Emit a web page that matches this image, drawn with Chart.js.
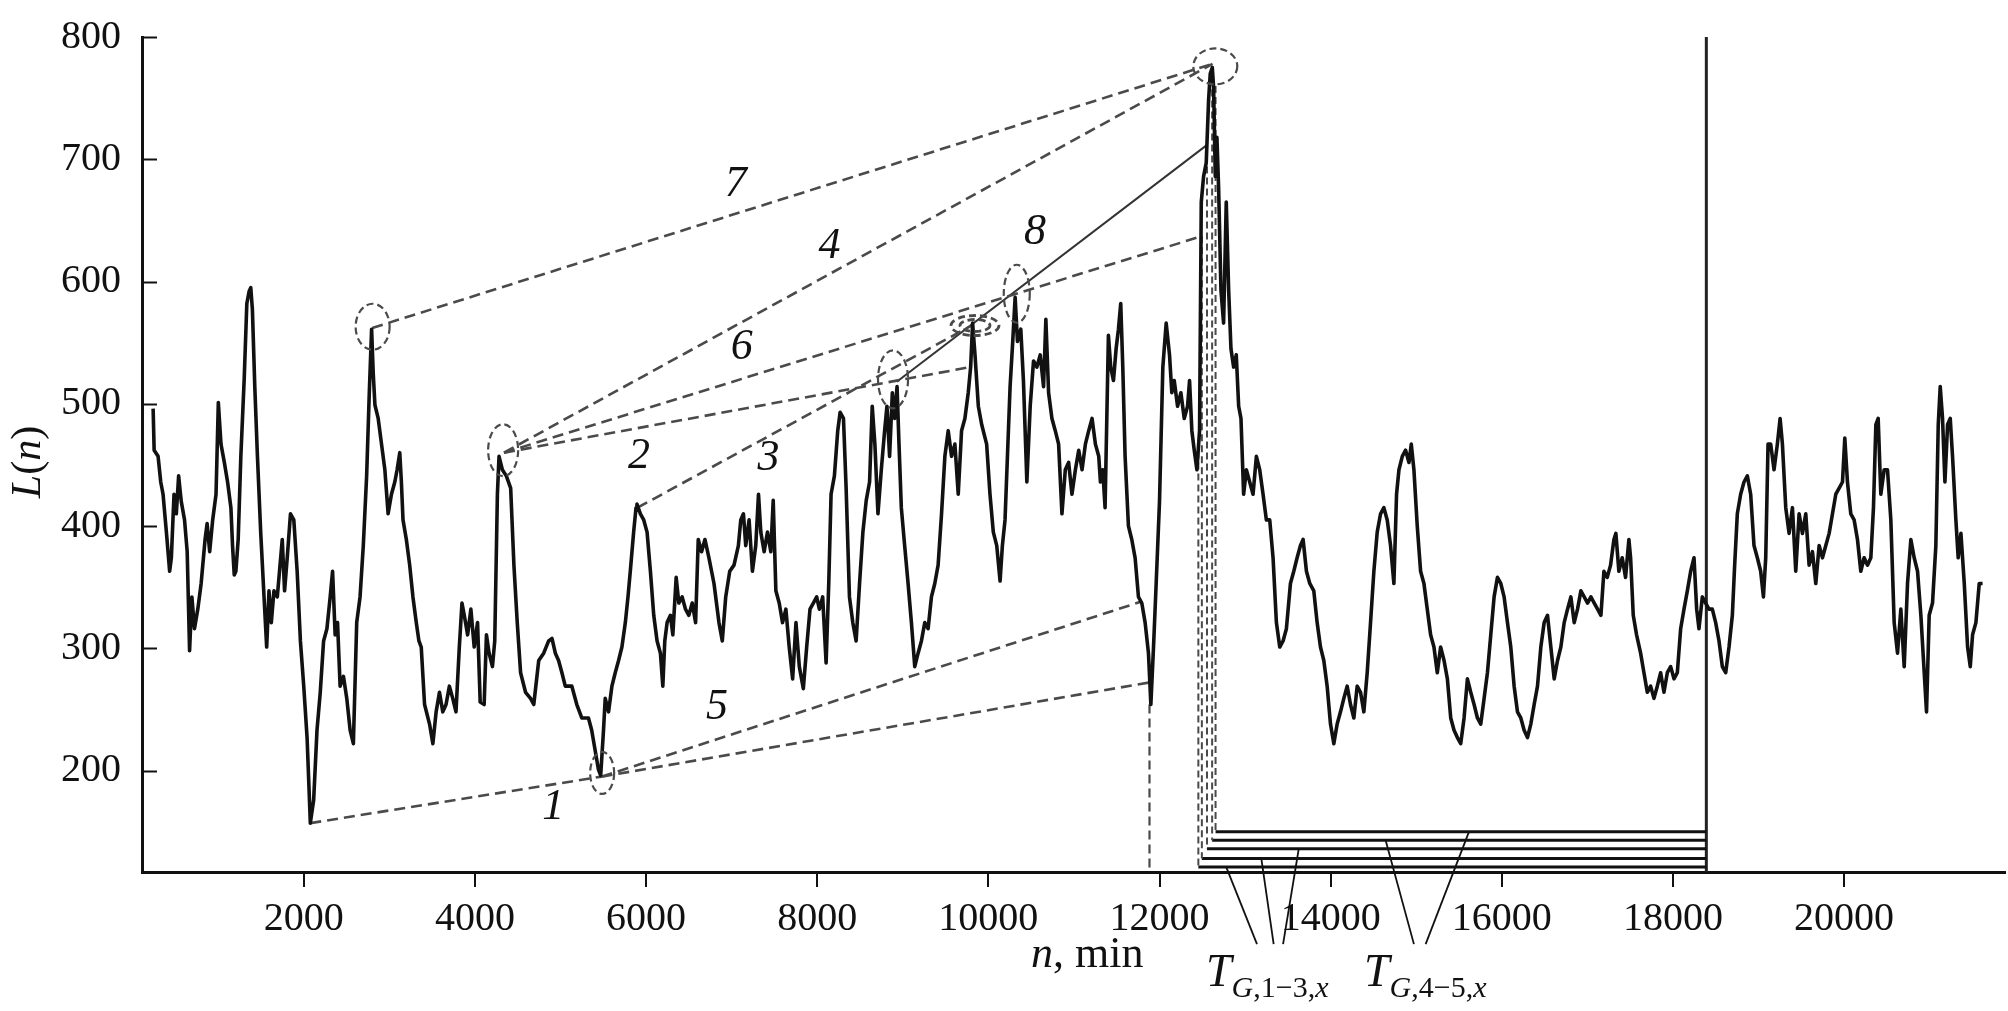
<!DOCTYPE html>
<html>
<head>
<meta charset="utf-8">
<title>L(n)</title>
<script src="https://cdn.jsdelivr.net/npm/chart.js@4.4.1/dist/chart.umd.min.js"></script>
<style>
  html, body { margin: 0; padding: 0; background: #fff; }
  #wrap { width: 2008px; height: 1011px; }
</style>
</head>
<body>
<div id="wrap"><canvas id="chart" width="2008" height="1011"></canvas></div>
<script>
// series: n (min) and L(n)
const minutes = [
  240,252,298,329,356,395,433,453,484,511,538,569,607,638,666,693,723,762,801,847,
  871,901,936,975,1002,1033,1072,1110,1149,1168,1188,1207,1234,1265,1304,1335,1362,1381,1400,1428,
  1459,1497,1536,1567,1594,1621,1652,1691,1749,1776,1807,1845,1884,1923,1961,2000,2039,2077,2116,2155,
  2193,2232,2271,2309,2337,2367,2395,2425,2464,2503,2542,2580,2619,2658,2696,2735,2766,2793,2812,2832,
  2870,2909,2948,2986,3025,3064,3091,3122,3141,3160,3199,3238,3276,3315,3346,3373,3412,3470,3509,3547,
  3586,3625,3663,3702,3741,3779,3818,3849,3876,3915,3953,3992,4031,4062,4108,4135,4166,4205,4232,4263,
  4282,4321,4367,4418,4456,4495,4534,4592,4650,4688,4746,4804,4862,4901,4940,4978,5017,5056,5133,5191,
  5249,5327,5365,5404,5443,
  5470,5503,5523,5562,5601,5640,5679,5718,5758,5789,5816,5855,5883,5894,5934,5973,6012,6051,6090,6129,
  6168,6196,6219,6246,6285,6313,6352,6383,6422,6461,6500,6540,6579,6610,6649,6688,6735,6794,6852,6891,
  6931,6978,7028,7079,7107,7138,7165,7204,7243,7282,7314,7341,7380,7419,7458,7486,7517,7556,7595,7634,
  7673,7713,7752,7791,7838,7877,7916,7955,7994,8025,8064,8104,8135,8162,8201,8240,8268,8307,8338,8377,
  8416,8455,8495,8534,8573,8612,8643,8674,8710,8749,8788,8815,8846,8878,8905,8933,8956,8983,9022,9062,
  9101,9140,9179,9218,9257,9296,9335,9374,9413,9453,9492,9531,9570,9609,9648,9687,9726,9765,9793,9816,
  9844,9883,9922,9980,10019,10058,10098,10137,10164,10195,10223,10254,10285,10313,10340,10379,10410,10450,10489,10528,
  10567,10606,10645,10672,10704,10743,10782,10821,10860,10899,10938,10977,11017,11056,11095,11134,11173,11212,11251,11290,
  11310,
  11337,11364,11403,11430,11462,11493,11520,11547,11571,11598,11637,11676,11715,11754,11793,11832,11871,11899,11930,11961,
  12000,12039,12078,12117,12144,12172,12211,12250,12289,12328,12351,12378,12406,12437,12468,12488,12515,12546,12574,12593,
  12617,12632,12652,12671,12691,12718,12749,12780,12808,12835,12866,12897,12925,12952,12983,13015,13054,13093,13132,13171,
  13210,13249,13288,13327,13366,13405,13444,13483,13530,13569,13608,13647,13678,13717,13756,13803,13842,13881,13920,13959,
  13998,14037,14076,14115,14154,14193,14232,14271,14310,14349,14388,14427,14466,14505,14544,14583,14622,14661,14700,14739,
  14770,14798,14837,14876,14915,14942,14973,15012,15051,15090,15129,15168,15207,15246,15285,15325,15364,15403,15442,15481,
  15520,15559,15598,15637,15676,15715,15754,15793,15832,15871,15910,15949,15988,16027,16066,16105,16144,16183,16222,16261,
  16300,16339,16378,16417,16456,16495,16534,16573,16612,16651,16690,16729,16768,16807,16846,16885,16924,16963,17002,17041,
  17080,17119,17158,
  17193,17232,17271,17310,17333,17368,17407,17446,17485,17505,17536,17575,17622,17661,17700,17739,17778,17817,17856,17895,
  17934,17973,18012,18051,18090,18129,18168,18207,18246,18277,18304,18343,18382,18421,18460,18499,18538,18577,18616,18655,
  18694,18721,18752,18791,18830,18869,18908,18947,18986,19025,19057,19084,19111,19142,19181,19220,19252,19279,19318,19357,
  19396,19435,19474,19513,19552,19591,19630,19669,19708,19747,19786,19825,19864,19903,19942,19981,20008,20039,20078,20117,
  20156,20195,20234,20273,20312,20343,20371,20398,20429,20468,20507,20546,20585,20624,20663,20702,20741,20780,20819,20858,
  20897,20936,20963,20994,21033,21072,21100,21123,21150,21178,21209,21240,21267,21306,21333,21365,21404,21443,21474,21501,
  21540,21579,21618
];
const load = [
  496,462,457,436,426,395,363,374,426,410,441,420,405,379,298,342,316,332,353,389,
  402,379,405,426,501,467,452,436,415,384,360,363,389,457,520,582,592,595,577,514,
  457,395,342,301,347,321,347,342,389,347,374,410,405,363,306,269,227,157,176,233,
  264,306,316,342,363,311,321,269,277,259,233,222,321,342,384,441,509,561,525,499,
  488,467,446,410,426,436,446,460,436,405,389,368,342,321,306,301,254,238,222,248,
  264,248,254,269,259,248,301,337,327,311,332,301,321,256,254,311,296,285,306,426,
  457,446,441,431,368,321,280,264,259,254,290,296,306,308,296,290,280,269,269,254,
  243,243,233,217,201,
  196,233,259,248,269,280,290,301,321,342,363,395,415,418,410,405,395,363,327,306,
  296,269,306,321,327,311,358,337,342,332,327,337,321,389,379,389,374,353,321,306,
  342,363,368,384,405,410,384,405,363,384,426,395,379,395,379,421,347,337,321,332,
  301,275,321,285,267,301,332,337,342,332,342,288,353,426,441,478,493,488,431,342,
  321,306,353,395,421,436,498,467,410,446,478,498,457,509,488,514,467,415,384,353,
  321,285,296,306,321,316,342,353,368,410,457,478,457,467,426,478,488,509,530,566,
  540,498,483,467,426,395,384,355,384,405,457,514,551,587,551,561,519,436,498,535,
  530,540,514,569,509,488,478,467,410,446,452,426,446,462,446,467,478,488,467,457,
  436,
  446,415,556,530,519,545,561,582,530,457,400,389,374,342,337,321,296,254,301,353,
  420,530,566,540,509,519,498,509,488,498,519,478,462,446,478,665,686,697,749,770,
  775,759,686,718,676,593,566,665,593,545,530,540,498,488,426,446,436,426,457,446,
  426,405,405,374,321,301,306,316,353,363,374,384,389,363,353,347,321,301,290,269,
  238,222,238,248,259,269,254,243,269,264,248,280,321,363,395,410,415,405,384,353,
  426,446,457,462,452,467,446,400,363,353,332,311,301,280,301,290,275,243,233,227,
  222,243,275,264,254,243,238,259,280,311,342,358,353,342,321,301,269,248,243,233,
  227,238,254,269,301,321,327,301,275,290,301,321,332,342,321,332,347,342,337,342,
  337,332,327,
  363,358,368,389,394,363,374,358,389,374,327,311,296,280,264,269,259,269,280,264,
  280,285,275,280,316,332,347,363,374,332,316,342,337,332,332,321,306,285,280,301,
  327,368,410,426,436,441,426,384,374,363,342,374,467,467,446,467,488,467,415,394,
  415,363,410,394,410,368,379,353,384,374,384,394,410,426,431,436,472,436,410,405,
  389,363,374,368,374,415,483,488,426,446,446,405,321,296,332,285,353,389,374,363,
  327,280,248,327,337,384,483,514,488,436,483,488,457,405,374,394,353,301,285,311,
  321,353,353
];

const xTicks = [2000, 4000, 6000, 8000, 10000, 12000, 14000, 16000, 18000, 20000];
const yTicks = [200, 300, 400, 500, 600, 700, 800];

// trend lines 1-7 (dashed) and 8 (solid), end points as [n, L]
const dashedTrends = [
  [[2077, 157], [5480, 195]],
  [[4340, 460], [9790, 530]],
  [[5900, 415], [9830, 565]],
  [[4340, 460], [12620, 778]],
  [[5480, 195], [11780, 338]],
  [[5480, 195], [11880, 272]],
  [[4340, 460], [12490, 637]],
  [[2800, 562], [12620, 778]]
];
const solidTrend = [[8930, 518], [12560, 712]];

// projections down to the time axis and the gate intervals
const lowDrop = [[11883, 254], [11883, 117]];
const gateStarts = [12454, 12495, 12555, 12615, 12655];
const gateTops = [470, 637, 712, 775, 760];
const gateLevels = [121, 128, 136, 143, 150];
const horizonN = 18390;

const leaderTops = [[12780, 121], [13190, 128], [13627, 136], [14642, 143], [15617, 150]];
const leaderFeetN = [13139, 13334, 13444, 14973, 15110];
const leaderFootL = 58;

const curveLabels = ['1', '2', '3', '4', '5', '6', '7', '8'];
const labelN = [4915, 5917, 7432, 8144, 6830, 7118, 7049, 10546];
const labelL = [170, 457, 455, 629, 252, 546, 679, 640];

const rings = [[2805, 563], [4330, 462], [5487, 198], [8886, 520], [10332, 590], [12652, 776]];
const doubleRing = [9844, 564];

const SERIF = "'Liberation Serif', 'Times New Roman', serif";
Chart.defaults.font.family = SERIF;
Chart.defaults.color = '#111';

const pts = arr => arr.map(p => ({ x: p[0], y: p[1] }));
const datasets = [];

datasets.push({
  data: minutes.map((n, i) => ({ x: n, y: load[i] })),
  borderColor: '#111', borderWidth: 3.6, pointRadius: 0, tension: 0,
  borderJoinStyle: 'round'
});

dashedTrends.forEach(seg => datasets.push({
  data: pts(seg), borderColor: '#4a4a4a', borderWidth: 2.6, borderDash: [11, 6],
  pointRadius: 0
}));

datasets.push({ data: pts(solidTrend), borderColor: '#333', borderWidth: 2, pointRadius: 0 });
datasets.push({ data: pts(lowDrop), borderColor: '#4a4a4a', borderWidth: 2.2, borderDash: [9, 5], pointRadius: 0 });

gateStarts.forEach((n, i) => {
  datasets.push({
    data: pts([[n, gateTops[i]], [n, gateLevels[i]]]),
    borderColor: '#4a4a4a', borderWidth: 2, borderDash: [7, 4], pointRadius: 0
  });
  datasets.push({
    data: pts([[n, gateLevels[i]], [horizonN, gateLevels[i]]]),
    borderColor: '#111', borderWidth: 3, pointRadius: 0
  });
});

datasets.push({ data: pts([[horizonN, 800], [horizonN, 117]]), borderColor: '#222', borderWidth: 3, pointRadius: 0 });

leaderTops.forEach((p, i) => datasets.push({
  data: pts([p, [leaderFeetN[i], leaderFootL]]),
  borderColor: '#111', borderWidth: 1.8, pointRadius: 0, clip: false
}));

function run(ctx, parts, x, y) {
  parts.forEach(p => {
    ctx.font = p.f;
    ctx.fillText(p.t, x, y);
    x += ctx.measureText(p.t).width;
  });
  return x;
}

const overlay = {
  id: 'overlay',
  afterDraw(chart) {
    const { ctx, chartArea: a, scales: { x, y } } = chart;
    ctx.save();

    // inward ticks on the L axis
    ctx.strokeStyle = '#111';
    ctx.lineWidth = 2;
    yTicks.forEach(v => {
      const py = Math.round(y.getPixelForValue(v)) + 0.5;
      ctx.beginPath(); ctx.moveTo(a.left, py); ctx.lineTo(a.left + 15, py); ctx.stroke();
    });

    // dashed rings around the extremes
    const ringSize = [[17, 23], [15, 26], [12, 21], [15, 29], [13, 29], [22, 18]];
    ctx.strokeStyle = '#4a4a4a';
    ctx.lineWidth = 2.2;
    ctx.setLineDash([7, 4]);
    rings.forEach((r, i) => {
      ctx.beginPath();
      ctx.ellipse(x.getPixelForValue(r[0]), y.getPixelForValue(r[1]), ringSize[i][0], ringSize[i][1], 0, 0, Math.PI * 2);
      ctx.stroke();
    });
    ctx.lineWidth = 2.8;
    [[24, 10], [15, 6]].forEach(s => {
      ctx.beginPath();
      ctx.ellipse(x.getPixelForValue(doubleRing[0]), y.getPixelForValue(doubleRing[1]), s[0], s[1], 0, 0, Math.PI * 2);
      ctx.stroke();
    });
    ctx.setLineDash([]);

    // line numbers
    ctx.fillStyle = '#111';
    ctx.textAlign = 'center';
    ctx.textBaseline = 'middle';
    ctx.font = 'italic 44px ' + SERIF;
    curveLabels.forEach((t, i) => ctx.fillText(t, x.getPixelForValue(labelN[i]), y.getPixelForValue(labelL[i])));

    // axis titles
    ctx.textAlign = 'left';
    ctx.textBaseline = 'alphabetic';
    const it = s => 'italic ' + s + 'px ' + SERIF;
    const up = s => s + 'px ' + SERIF;
    run(ctx, [{ t: 'n', f: it(44) }, { t: ', min', f: up(44) }], 1031, 967);

    let tx = run(ctx, [{ t: 'T', f: it(46) }], 1206, 986);
    run(ctx, [{ t: 'G', f: it(30) }, { t: ',1\u22123,', f: up(30) }, { t: 'x', f: it(30) }], tx, 997);
    tx = run(ctx, [{ t: 'T', f: it(46) }], 1364, 986);
    run(ctx, [{ t: 'G', f: it(30) }, { t: ',4\u22125,', f: up(30) }, { t: 'x', f: it(30) }], tx, 997);

    ctx.translate(40, 462);
    ctx.rotate(-Math.PI / 2);
    const yParts = [{ t: 'L', f: it(42) }, { t: '(', f: up(42) }, { t: 'n', f: it(42) }, { t: ')', f: up(42) }];
    let w = 0;
    yParts.forEach(p => { ctx.font = p.f; w += ctx.measureText(p.t).width; });
    run(ctx, yParts, -w / 2, 0);

    ctx.restore();
  }
};

new Chart(document.getElementById('chart'), {
  type: 'line',
  data: { datasets },
  options: {
    responsive: false,
    animation: false,
    devicePixelRatio: 1,
    layout: { padding: { top: 27, right: 3, left: 0, bottom: 0 } },
    plugins: { legend: { display: false }, tooltip: { enabled: false } },
    scales: {
      x: {
        type: 'linear', min: 110, max: 21880,
        afterBuildTicks: s => { s.ticks = xTicks.map(v => ({ value: v })); },
        afterFit: s => { s.height = 139; },
        grid: { drawOnChartArea: false, drawTicks: true, tickLength: 15, color: '#111', lineWidth: 2 },
        border: { display: true, color: '#111', width: 3 },
        ticks: { padding: 8, color: '#111', font: { size: 40 }, maxRotation: 0, autoSkip: false, callback: v => String(v) }
      },
      y: {
        type: 'linear', min: 117, max: 800,
        afterBuildTicks: s => { s.ticks = yTicks.map(v => ({ value: v })); },
        afterFit: s => { s.width = 142; },
        grid: { display: false },
        border: { display: true, color: '#111', width: 3 },
        ticks: { padding: 13, color: '#111', font: { size: 40 }, callback: v => String(v) }
      }
    }
  },
  plugins: [overlay]
});
</script>
</body>
</html>
